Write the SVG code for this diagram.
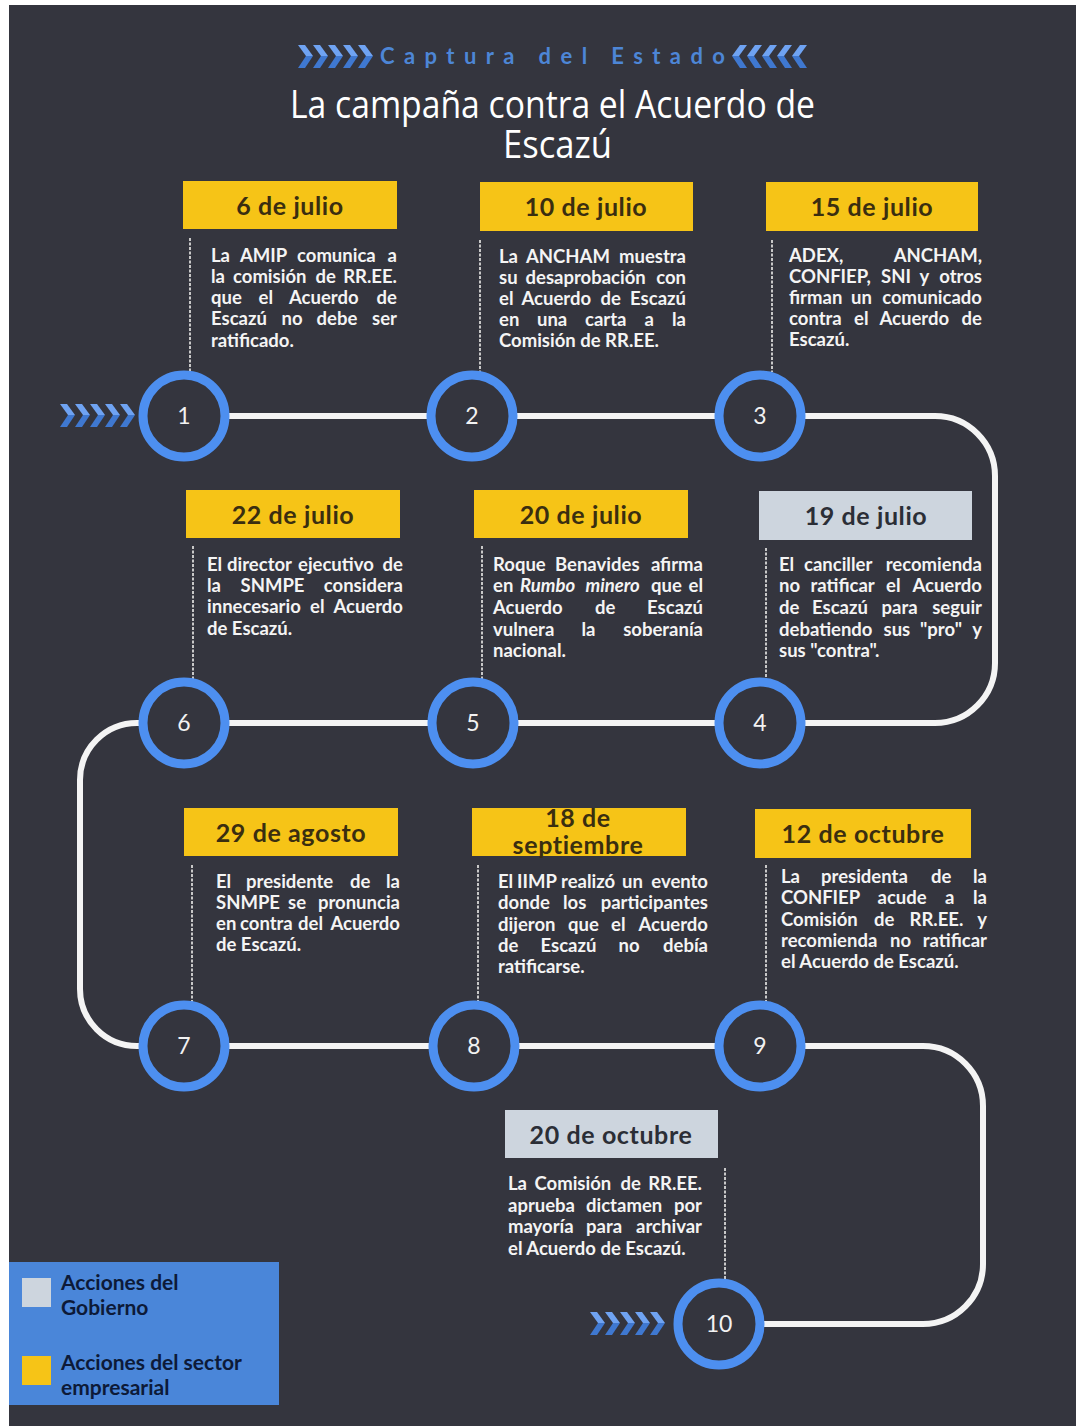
<svg xmlns="http://www.w3.org/2000/svg" xmlns:xlink="http://www.w3.org/1999/xlink" width="1076" height="1426" viewBox="0 0 1076 1426">
<style>
.bg{fill:#34353e}
.ring{fill:#34353e;stroke:#4d8ff0;stroke-width:9}
.num{font-family:Lato,"Liberation Sans",sans-serif;font-size:23px;fill:#f2f2f2;text-anchor:middle}
.ybox{fill:#f6c417}
.gbox{fill:#cdd5de}
.date{font-family:Lato,"Liberation Sans",sans-serif;font-weight:700;font-size:25px;letter-spacing:0.6px;fill:#3a2e10;text-anchor:middle}
.gdate{fill:#2b2e36}
.desc{font-family:Lato,"Liberation Sans",sans-serif;font-weight:700;font-size:18.5px;fill:#f4f4f4}
.e{text-anchor:end}
.dot{stroke:#c8c8c8;stroke-width:2;stroke-dasharray:3 1.5;fill:none}
.track{fill:none;stroke:#f4f4f4;stroke-width:6}
.ctop{fill:#6fa3f2}
.cbot{fill:#3f78d0}
.leg{font-family:Lato,"Liberation Sans",sans-serif;font-weight:700;font-size:21px;fill:#0d1a38}
</style>
<defs>
<g id="chev1">
<polygon class="ctop" points="0,0 7,0 15,11 8,11"/>
<polygon class="cbot" points="8,11 15,11 7,23 0,23"/>
</g>
<g id="chevs">
<use xlink:href="#chev1" x="0"/>
<use xlink:href="#chev1" x="15"/>
<use xlink:href="#chev1" x="30"/>
<use xlink:href="#chev1" x="45"/>
<use xlink:href="#chev1" x="60"/>
</g>
</defs>
<rect x="0" y="0" width="1076" height="1426" fill="#ffffff"/>
<rect class="bg" x="9" y="5" width="1067" height="1421"/>

<g id="title">
<use xlink:href="#chevs" x="298" y="45"/>
<use xlink:href="#chevs" transform="translate(807,45) scale(-1,1)"/>
<text x="380" y="64" font-family="Lato,'Liberation Sans',sans-serif" font-weight="700" font-size="22" fill="#4d86d6" textLength="345" lengthAdjust="spacing">Captura del Estado</text>
<text x="290" y="118" font-family="'Open Sans','Noto Sans',sans-serif" font-size="38" fill="#ffffff" textLength="525" lengthAdjust="spacingAndGlyphs">La campaña contra el Acuerdo de</text>
<text x="503" y="158" font-family="'Open Sans','Noto Sans',sans-serif" font-size="38" fill="#ffffff" textLength="109" lengthAdjust="spacingAndGlyphs">Escazú</text>
</g>

<g id="connectors">
<path class="track" d="M 184 416 H 935 A 60 60 0 0 1 995 476 V 663 A 60 60 0 0 1 935 723 H 137 A 57 57 0 0 0 80 780 V 989 A 57 57 0 0 0 137 1046 H 923 A 60 60 0 0 1 983 1106 V 1264 A 60 60 0 0 1 923 1324 H 719"/>
<use xlink:href="#chevs" x="60" y="404"/>
<use xlink:href="#chevs" x="590" y="1312"/>
</g>

<g id="node1">
<rect class="ybox" x="183" y="181" width="214" height="48"/>
<text class="date" x="290" y="215">6 de julio</text>
<line class="dot" x1="190" y1="238" x2="190" y2="372"/>
<text class="desc"><tspan x="211" y="262">La</tspan><tspan x="240" y="262">AMIP</tspan><tspan x="297" y="262">comunica</tspan><tspan class="e" x="397" y="262">a</tspan><tspan
 x="211" y="283">la</tspan><tspan x="233" y="283">comisión</tspan><tspan x="315.5" y="283">de</tspan><tspan class="e" x="397" y="283">RR.EE.</tspan><tspan
 x="211" y="304">que</tspan><tspan x="258.5" y="304">el</tspan><tspan x="289" y="304">Acuerdo</tspan><tspan class="e" x="397" y="304">de</tspan><tspan
 x="211" y="325">Escazú</tspan><tspan x="281.5" y="325">no</tspan><tspan x="316.5" y="325">debe</tspan><tspan class="e" x="397" y="325">ser</tspan><tspan
 x="211" y="347">ratificado.</tspan></text>
<circle class="ring" cx="184" cy="416" r="41"/>
<text class="num" x="184" y="424">1</text>
</g>

<g id="node2">
<rect class="ybox" x="480" y="182" width="213" height="49"/>
<text class="date" x="586" y="216">10 de julio</text>
<line class="dot" x1="480" y1="240" x2="480" y2="374"/>
<text class="desc"><tspan x="499" y="263">La</tspan><tspan x="526" y="263">ANCHAM</tspan><tspan class="e" x="686" y="263">muestra</tspan><tspan
 x="499" y="284">su</tspan><tspan x="525.5" y="284">desaprobación</tspan><tspan class="e" x="686" y="284">con</tspan><tspan
 x="499" y="305">el</tspan><tspan x="521.5" y="305">Acuerdo</tspan><tspan x="600.5" y="305">de</tspan><tspan class="e" x="686" y="305">Escazú</tspan><tspan
 x="499" y="326">en</tspan><tspan x="537" y="326">una</tspan><tspan x="585" y="326">carta</tspan><tspan x="644.5" y="326">a</tspan><tspan class="e" x="686" y="326">la</tspan><tspan
 x="499" y="347">Comisión de RR.EE.</tspan></text>
<circle class="ring" cx="472" cy="416" r="41"/>
<text class="num" x="472" y="424">2</text>
</g>

<g id="node3">
<rect class="ybox" x="766" y="182" width="212" height="49"/>
<text class="date" x="872" y="216">15 de julio</text>
<line class="dot" x1="772" y1="240" x2="772" y2="372"/>
<text class="desc"><tspan x="789" y="262">ADEX,</tspan><tspan class="e" x="982" y="262">ANCHAM,</tspan><tspan
 x="789" y="283">CONFIEP,</tspan><tspan x="881" y="283">SNI</tspan><tspan x="919.5" y="283">y</tspan><tspan class="e" x="982" y="283">otros</tspan><tspan
 x="789" y="304">firman</tspan><tspan x="851" y="304">un</tspan><tspan class="e" x="982" y="304">comunicado</tspan><tspan
 x="789" y="325">contra</tspan><tspan x="854" y="325">el</tspan><tspan x="879.5" y="325">Acuerdo</tspan><tspan class="e" x="982" y="325">de</tspan><tspan
 x="789" y="346">Escazú.</tspan></text>
<circle class="ring" cx="760" cy="416" r="41"/>
<text class="num" x="760" y="424">3</text>
</g>

<g id="node4">
<rect class="gbox" x="759" y="491" width="213" height="49"/>
<text class="date gdate" x="866" y="525">19 de julio</text>
<line class="dot" x1="766" y1="548" x2="766" y2="680"/>
<text class="desc"><tspan x="779" y="571">El</tspan><tspan x="804" y="571">canciller</tspan><tspan class="e" x="982" y="571">recomienda</tspan><tspan
 x="779" y="592">no</tspan><tspan x="810.5" y="592">ratificar</tspan><tspan x="886" y="592">el</tspan><tspan class="e" x="982" y="592">Acuerdo</tspan><tspan
 x="779" y="614">de</tspan><tspan x="812" y="614">Escazú</tspan><tspan x="881.5" y="614">para</tspan><tspan class="e" x="982" y="614">seguir</tspan><tspan
 x="779" y="636">debatiendo</tspan><tspan x="883.5" y="636">sus</tspan><tspan x="920" y="636">"pro"</tspan><tspan class="e" x="982" y="636">y</tspan><tspan
 x="779" y="657">sus "contra".</tspan></text>
<circle class="ring" cx="760" cy="723" r="41"/>
<text class="num" x="760" y="731">4</text>
</g>

<g id="node5">
<rect class="ybox" x="474" y="490" width="214" height="48"/>
<text class="date" x="581" y="524">20 de julio</text>
<line class="dot" x1="482" y1="546" x2="482" y2="680"/>
<text class="desc"><tspan x="493" y="571">Roque</tspan><tspan x="555" y="571">Benavides</tspan><tspan class="e" x="703" y="571">afirma</tspan><tspan
 x="493" y="592">en</tspan><tspan x="520" y="592" font-style="italic">Rumbo</tspan><tspan x="585.5" y="592" font-style="italic">minero</tspan><tspan x="651" y="592">que</tspan><tspan class="e" x="703" y="592">el</tspan><tspan
 x="493" y="614">Acuerdo</tspan><tspan x="595" y="614">de</tspan><tspan class="e" x="703" y="614">Escazú</tspan><tspan
 x="493" y="636">vulnera</tspan><tspan x="581.5" y="636">la</tspan><tspan class="e" x="703" y="636">soberanía</tspan><tspan
 x="493" y="657">nacional.</tspan></text>
<circle class="ring" cx="473" cy="723" r="41"/>
<text class="num" x="473" y="731">5</text>
</g>

<g id="node6">
<rect class="ybox" x="186" y="490" width="214" height="48"/>
<text class="date" x="293" y="524">22 de julio</text>
<line class="dot" x1="193" y1="546" x2="193" y2="680"/>
<text class="desc"><tspan x="207" y="571">El</tspan><tspan x="227" y="571">director</tspan><tspan x="298" y="571">ejecutivo</tspan><tspan class="e" x="403" y="571">de</tspan><tspan
 x="207" y="592">la</tspan><tspan x="240.5" y="592">SNMPE</tspan><tspan class="e" x="403" y="592">considera</tspan><tspan
 x="207" y="613">innecesario</tspan><tspan x="310" y="613">el</tspan><tspan class="e" x="403" y="613">Acuerdo</tspan><tspan
 x="207" y="635">de Escazú.</tspan></text>
<circle class="ring" cx="184" cy="723" r="41"/>
<text class="num" x="184" y="731">6</text>
</g>

<g id="node7">
<rect class="ybox" x="184" y="808" width="214" height="48"/>
<text class="date" x="291" y="842">29 de agosto</text>
<line class="dot" x1="192" y1="865" x2="192" y2="1003"/>
<text class="desc"><tspan x="216" y="888">El</tspan><tspan x="246" y="888">presidente</tspan><tspan x="350" y="888">de</tspan><tspan class="e" x="400" y="888">la</tspan><tspan
 x="216" y="909">SNMPE</tspan><tspan x="288" y="909">se</tspan><tspan class="e" x="400" y="909">pronuncia</tspan><tspan
 x="216" y="930">en</tspan><tspan x="240" y="930">contra</tspan><tspan x="298" y="930">del</tspan><tspan class="e" x="400" y="930">Acuerdo</tspan><tspan
 x="216" y="951">de Escazú.</tspan></text>
<circle class="ring" cx="184" cy="1046" r="41"/>
<text class="num" x="184" y="1054">7</text>
</g>

<g id="node8">
<rect class="ybox" x="472" y="808" width="214" height="48"/>
<text class="date" x="578" y="827" font-size="24">18 de</text>
<text class="date" x="578" y="854" font-size="24">septiembre</text>
<line class="dot" x1="478" y1="865" x2="478" y2="1003"/>
<text class="desc"><tspan x="498" y="888">El</tspan><tspan x="517" y="888">IIMP</tspan><tspan x="561" y="888">realizó</tspan><tspan x="622" y="888">un</tspan><tspan class="e" x="708" y="888">evento</tspan><tspan
 x="498" y="909">donde</tspan><tspan x="563" y="909">los</tspan><tspan class="e" x="708" y="909">participantes</tspan><tspan
 x="498" y="931">dijeron</tspan><tspan x="568" y="931">que</tspan><tspan x="611" y="931">el</tspan><tspan class="e" x="708" y="931">Acuerdo</tspan><tspan
 x="498" y="952">de</tspan><tspan x="540.5" y="952">Escazú</tspan><tspan x="618.5" y="952">no</tspan><tspan class="e" x="708" y="952">debía</tspan><tspan
 x="498" y="973">ratificarse.</tspan></text>
<circle class="ring" cx="474" cy="1046" r="41"/>
<text class="num" x="474" y="1054">8</text>
</g>

<g id="node9">
<rect class="ybox" x="755" y="809" width="216" height="49"/>
<text class="date" x="863" y="843">12 de octubre</text>
<line class="dot" x1="766" y1="865" x2="766" y2="1003"/>
<text class="desc"><tspan x="781" y="883">La</tspan><tspan x="821" y="883">presidenta</tspan><tspan x="931" y="883">de</tspan><tspan class="e" x="987" y="883">la</tspan><tspan
 x="781" y="904">CONFIEP</tspan><tspan x="877.5" y="904">acude</tspan><tspan x="945" y="904">a</tspan><tspan class="e" x="987" y="904">la</tspan><tspan
 x="781" y="926">Comisión</tspan><tspan x="874" y="926">de</tspan><tspan x="909.5" y="926">RR.EE.</tspan><tspan class="e" x="987" y="926">y</tspan><tspan
 x="781" y="947">recomienda</tspan><tspan x="890" y="947">no</tspan><tspan class="e" x="987" y="947">ratificar</tspan><tspan
 x="781" y="968">el Acuerdo de Escazú.</tspan></text>
<circle class="ring" cx="760" cy="1046" r="41"/>
<text class="num" x="760" y="1054">9</text>
</g>

<g id="node10">
<rect class="gbox" x="505" y="1110" width="213" height="48"/>
<text class="date gdate" x="611" y="1144">20 de octubre</text>
<line class="dot" x1="725" y1="1168" x2="725" y2="1282"/>
<text class="desc"><tspan x="508" y="1190">La</tspan><tspan x="534.5" y="1190">Comisión</tspan><tspan x="620.5" y="1190">de</tspan><tspan class="e" x="702" y="1190">RR.EE.</tspan><tspan
 x="508" y="1212">aprueba</tspan><tspan x="586" y="1212">dictamen</tspan><tspan class="e" x="702" y="1212">por</tspan><tspan
 x="508" y="1233">mayoría</tspan><tspan x="586" y="1233">para</tspan><tspan class="e" x="702" y="1233">archivar</tspan><tspan
 x="508" y="1255">el Acuerdo de Escazú.</tspan></text>
<circle class="ring" cx="719" cy="1324" r="41"/>
<text class="num" x="719" y="1332">10</text>
</g>

<g id="legend">
<rect x="9" y="1262" width="270" height="143" fill="#4a86d9"/>
<rect x="22" y="1278" width="29" height="29" class="gbox"/>
<rect x="22" y="1356" width="29" height="29" class="ybox"/>
<text class="leg" x="61" y="1290">Acciones del</text>
<text class="leg" x="61" y="1315">Gobierno</text>
<text class="leg" x="61" y="1370">Acciones del sector</text>
<text class="leg" x="61" y="1395">empresarial</text>
</g>
</svg>
